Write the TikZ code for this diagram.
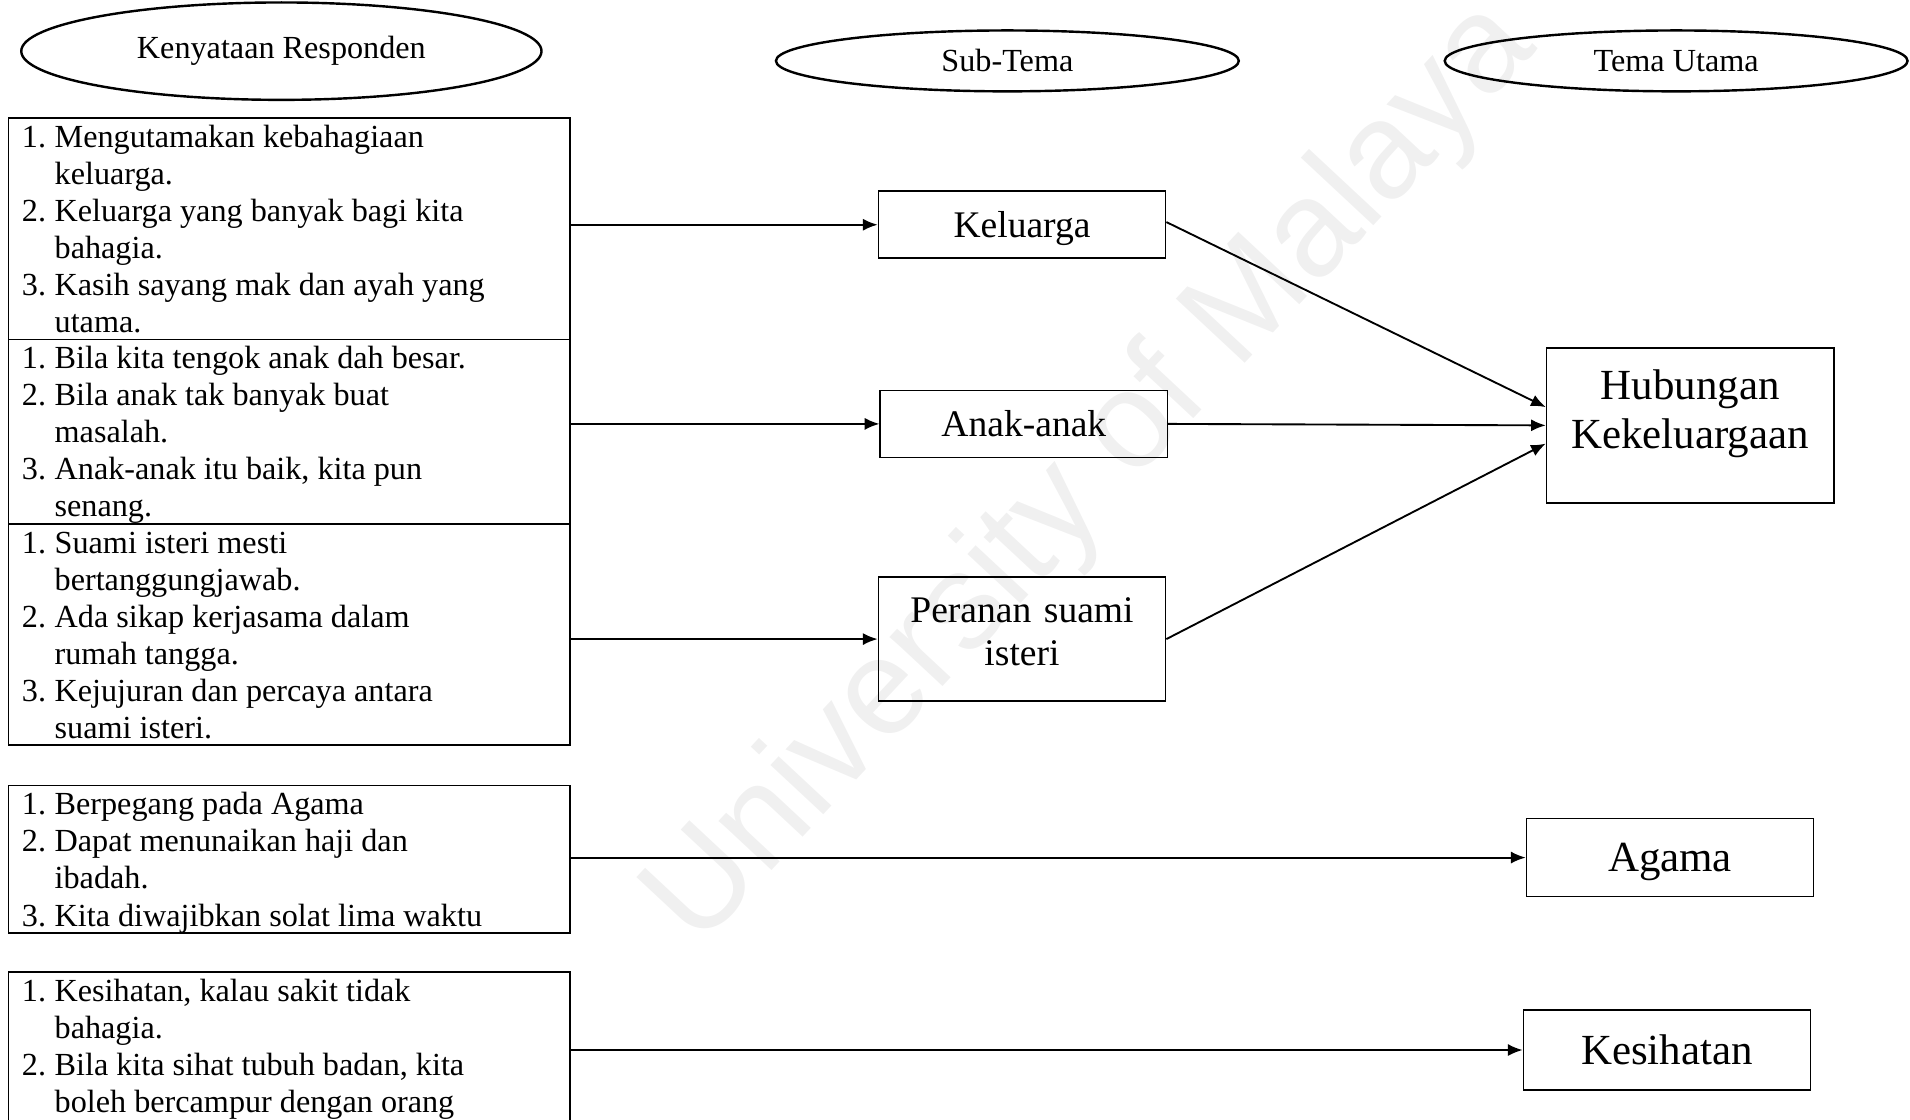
\documentclass[tikz,border=0pt]{standalone}
\usepackage{fontspec}
\setmainfont{Liberation Serif}
\newfontfamily\wmfont{Liberation Sans}
\usetikzlibrary{positioning,shapes.geometric,arrows.meta}
\newcommand{\nombor}[1]{\makebox[12.2pt][l]{#1}}
\newcommand{\lanjut}{\hspace*{12.2pt}}

\begin{document}
\frenchspacing
\begin{tikzpicture}
  [
    x                      = 0.454pt,
    y                      = -0.454pt,
    every node/.style      = {line width=0.6pt},
    tajuk/.style           = {draw, ellipse, line width=0.9pt, inner sep=0pt,
                              font=\fontsize{12}{14}\selectfont},
    kenyataan/.style       = {draw, anchor=north west, outer sep=0pt,
                              inner xsep=5pt, inner ysep=0pt, text width=199.3pt,
                              align=left, text height=10.9pt,
                              execute at begin node={\spaceskip=3pt\relax},
                              font=\fontsize{12}{13.8}\selectfont},
    subtema/.style         = {draw, minimum width=107pt, minimum height=25pt,
                              align=center, text height=9.6pt, text depth=0.3pt,
                              font=\fontsize{14}{16.1}\selectfont},
    tema/.style            = {draw, minimum width=107pt, minimum height=29pt,
                              align=center, text height=10.9pt, text depth=0.3pt,
                              font=\fontsize{16}{18.4}\selectfont},
    panah/.style           = {draw, line width=0.7pt, -{Latex[length=5.5pt,width=4.5pt]}}
  ]
  \useasboundingbox (0,0) rectangle (1568,919);
  \clip (0,0) rectangle (1568,919);

  % watermark
  \node [rotate=47, text=black!6, font=\wmfont\fontsize{51}{51}\selectfont]
    (tera) at (897,390) {University of Malaya};

  % tajuk lajur
  \node [tajuk, minimum width=193.9pt, minimum height=36.3pt] (tKenyataan) at (231,42)
    {Kenyataan Responden};
  \node [tajuk, minimum width=172.5pt, minimum height=22.7pt] (tSubtema) at (827,50)
    {Sub-Tema};
  \node [tajuk, minimum width=172.5pt, minimum height=22.7pt] (tTema) at (1376,50)
    {Tema Utama};

  % kenyataan responden
  \node [kenyataan, text depth=71.6pt] (kenA) at (7,97)
    {\nombor{1.}Mengutamakan kebahagiaan\\
     \lanjut keluarga.\\
     \nombor{2.}Keluarga yang banyak bagi kita\\
     \lanjut bahagia.\\
     \nombor{3.}Kasih sayang mak dan ayah yang\\
     \lanjut utama.};
  \node [kenyataan, text depth=57.8pt, below=0pt of kenA] (kenB)
    {\nombor{1.}Bila kita tengok anak dah besar.\\
     \nombor{2.}Bila anak tak banyak buat\\
     \lanjut masalah.\\
     \nombor{3.}Anak-anak itu baik, kita pun\\
     \lanjut senang.};
  \node [kenyataan, text depth=71.6pt, below=0pt of kenB] (kenC)
    {\nombor{1.}Suami isteri mesti\\
     \lanjut bertanggungjawab.\\
     \nombor{2.}Ada sikap kerjasama dalam\\
     \lanjut rumah tangga.\\
     \nombor{3.}Kejujuran dan percaya antara\\
     \lanjut suami isteri.};
  \node [kenyataan, text depth=44pt] (kenD) at (7,645)
    {\nombor{1.}Berpegang pada Agama\\
     \nombor{2.}Dapat menunaikan haji dan\\
     \lanjut ibadah.\\
     \nombor{3.}Kita diwajibkan solat lima waktu};
  \node [kenyataan, text depth=80pt] (kenE) at (7,798)
    {\nombor{1.}Kesihatan, kalau sakit tidak\\
     \lanjut bahagia.\\
     \nombor{2.}Bila kita sihat tubuh badan, kita\\
     \lanjut boleh bercampur dengan orang};

  % sub-tema
  \node [subtema] (keluarga) at (839,184.5) {Keluarga};
  \node [subtema] (anak) at (840.5,348) {Anak-anak};
  \node [subtema, anchor=north, text width=97pt, inner xsep=5pt, inner ysep=0pt,
         text height=16.9pt, text depth=29.4pt] (peranan) at (839,473)
    {Peranan suami\\isteri};

  % tema utama
  \node [tema, anchor=north, text width=96.7pt, inner xsep=5pt, inner ysep=0pt,
         text height=19.1pt, text depth=38.6pt] (hubungan) at (1387.5,285)
    {Hubungan\\Kekeluargaan};
  \node [tema] (agama) at (1371,704) {Agama};
  \node [tema, minimum height=30pt] (kesihatan) at (1368.5,862) {Kesihatan};

  % anak panah
  \draw [panah] (kenA.east |- keluarga.west) -- (keluarga.west);
  \draw [panah] (kenB.east |- anak.west) -- (anak.west);
  \draw [panah] (kenC.east |- peranan.west) -- (peranan.west);
  \draw [panah] ([yshift=1pt]keluarga.east) -- ([yshift=6.8pt]hubungan.west);
  \draw [panah] (anak.east) -- (hubungan.west);
  \draw [panah] (peranan.east) -- ([yshift=-6.8pt]hubungan.west);
  \draw [panah] (kenD.east |- agama.west) -- (agama.west);
  \draw [panah] (kenE.east |- kesihatan.west) -- (kesihatan.west);
\end{tikzpicture}
\end{document}
